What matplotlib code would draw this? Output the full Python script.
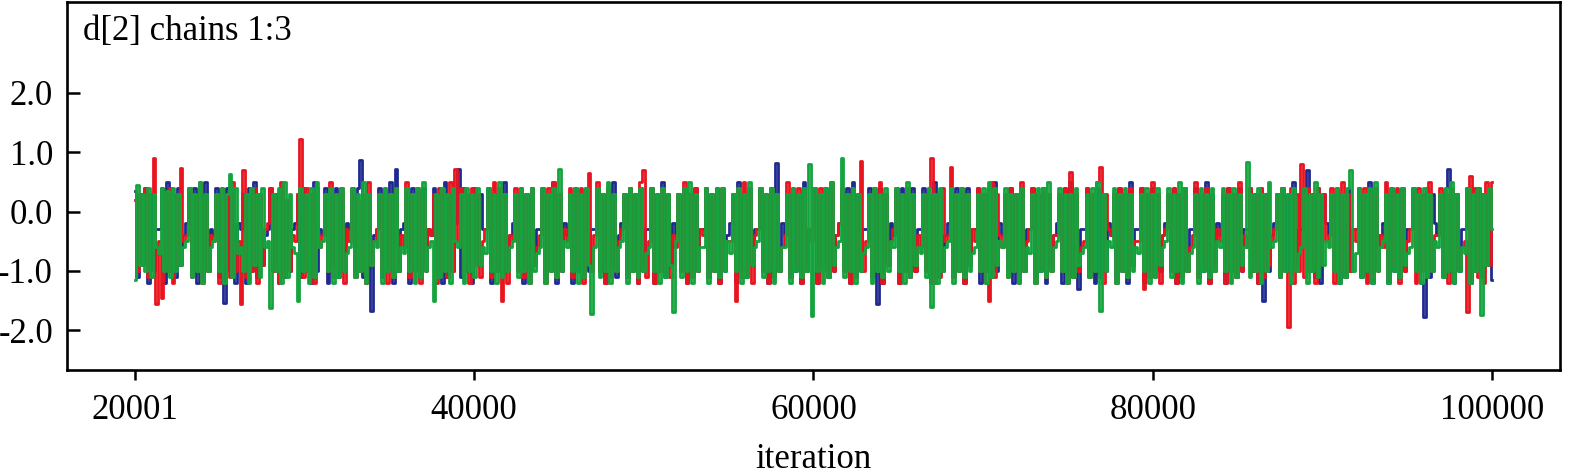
import numpy as np
import matplotlib.pyplot as plt

chain_red = [
    0.2, -1.0, 0.3, -0.9, 0.4, -1.1, 0.3, 0.9, -1.55, -0.5,
    -1.45, 0.3, -1.0, 0.4, -1.2, 0.3, -0.9, 0.74, -0.5, -0.4,
    0.4, -1.1, 0.3, -1.0, 0.5, -1.2, 0.2, -1.0, -0.4, -0.5,
    0.3, -1.2, 0.4, -0.9, 0.3, -1.1, 0.5, -1.0, -0.5, -1.55,
    0.7, -1.1, 0.3, -1.0, 0.4, -1.2, 0.3, -0.9, -0.3, -0.2,
    0.4, -1.0, 0.3, -1.2, 0.5, -1.1, 0.2, -1.0, -0.4, -0.5,
    0.3, 1.22, -1.1, 0.4, -1.0, 0.3, -1.2, 0.4, -0.6, -0.4,
    0.3, -1.0, 0.5, -1.1, 0.3, -0.9, 0.4, -1.2, -0.3, -0.5,
    0.4, -1.1, 0.2, -1.0, 0.3, -1.2, 0.5, -0.9, -0.5, -0.3,
    0.3, -1.0, 0.4, -1.2, 0.3, -1.1, 0.4, -1.0, -0.4, -0.6,
    0.5, -1.1, 0.3, -0.9, 0.4, -1.2, 0.2, -1.0, -0.3, -0.4,
    0.3, -1.2, 0.4, -1.0, 0.3, -1.1, 0.5, -1.0, 0.72, -0.5,
    0.4, -1.0, 0.3, -1.2, 0.4, -0.9, 0.3, -1.1, -0.5, -0.3,
    0.3, -1.1, 0.5, -1.0, 0.4, -1.5, 0.3, -1.2, -0.4, -0.5,
    0.4, -1.0, 0.2, -1.1, 0.3, -1.2, 0.4, -0.9, -0.6, -0.4,
    0.3, -1.2, 0.4, -1.0, 0.5, -1.1, 0.3, -1.0, -0.3, -0.5,
    0.4, -1.1, 0.3, -0.9, 0.4, -1.2, 0.3, 0.65, -1.0, -0.4,
    0.5, -1.0, 0.3, -1.2, 0.4, -1.1, 0.2, -1.0, -0.5, -0.3,
    0.3, -1.1, 0.4, -1.0, 0.3, -1.2, 0.5, 0.7, -1.1, -0.5,
    0.4, -1.2, 0.3, -1.0, 0.4, -0.9, 0.3, -1.1, -0.4, -0.6,
    0.3, -1.0, 0.5, -1.2, 0.3, -1.1, 0.4, -1.0, -0.3, -0.4,
    0.4, -1.1, 0.3, -1.0, 0.2, -1.2, 0.4, -0.9, -0.5, -0.5,
    0.3, -1.5, 0.4, -1.1, 0.5, -1.0, 0.3, -1.2, -0.4, -0.3,
    0.4, -1.0, 0.3, -1.2, 0.4, -1.1, 0.3, -1.0, -0.6, -0.4,
    0.5, -1.1, 0.3, -0.9, 0.4, -1.2, 0.2, -1.0, -0.3, -0.5,
    0.3, -1.2, 0.4, -1.0, 0.3, -1.1, 0.5, -1.0, -0.4, -0.2,
    0.4, -1.0, 0.3, -1.2, 0.4, -1.1, 0.3, 0.85, -1.0, -0.5,
    0.3, -1.1, 0.4, -1.0, 0.5, -1.2, 0.3, -0.9, -0.5, -0.3,
    0.4, -1.2, 0.3, -1.0, 0.4, -1.1, 0.2, -1.0, -0.4, -0.6,
    0.3, -1.0, 0.4, 0.9, -1.2, 0.3, -1.1, 0.4, -0.5, -0.4,
    0.75, -1.1, 0.3, -1.0, 0.4, -1.2, 0.3, -0.9, -0.3, -0.5,
    0.4, -1.0, 0.3, -1.2, -1.5, 0.5, -1.1, 0.3, -0.4, -0.6,
    0.3, -1.1, 0.4, -1.0, 0.3, -1.2, 0.5, -1.0, -0.5, -0.3,
    0.4, -1.2, 0.3, -0.9, 0.4, -1.1, 0.3, -1.0, -0.4, -0.4,
    0.3, -1.0, 0.4, -1.2, 0.67, -1.1, 0.3, -1.0, -0.6, -0.5,
    0.4, -1.1, 0.3, -1.0, 0.5, 0.75, -1.2, 0.3, -0.3, -0.4,
    0.3, -1.2, 0.4, -1.0, 0.3, -1.1, 0.4, -0.9, -0.5, -0.5,
    0.4, -1.3, 0.3, -1.1, 0.5, -1.0, 0.3, -1.2, -0.4, -0.3,
    0.3, -1.0, 0.4, -1.2, 0.3, -1.1, 0.4, -1.0, -0.6, -0.4,
    0.5, -1.1, 0.3, -0.9, 0.4, -1.2, 0.2, -1.0, -0.3, -0.5,
    0.3, -1.2, 0.4, -1.0, 0.3, -1.1, 0.5, -1.0, -0.4, -0.6,
    0.4, -1.0, 0.3, -1.2, 0.4, -1.1, 0.3, -0.9, -0.5, -0.3,
    0.3, -1.1, 0.4, -1.0, -1.95, 0.4, -1.2, 0.3, -1.0, 0.8,
    -1.1, 0.4, -1.0, 0.3, -1.2, 0.4, -0.9, 0.3, -0.5, -0.4,
    0.4, -1.2, 0.3, -1.0, 0.5, -1.1, 0.3, -1.0, -0.3, -0.5,
    0.3, -1.0, 0.4, -1.2, 0.3, -1.1, 0.4, -1.0, -0.4, -0.6,
    0.5, -1.1, 0.3, -0.9, 0.4, -1.2, 0.3, -1.0, -0.5, -0.3,
    0.3, -1.2, 0.4, -1.0, 0.3, -1.1, 0.5, -1.0, -0.4, -0.4,
    0.4, -1.0, 0.3, -1.2, 0.4, -1.1, 0.3, -0.9, -0.6, -0.5,
    -1.7, 0.6, -1.0, 0.4, -1.1, 0.3, -1.2, 0.5, -0.9, 0.5,
]
chain_blue = [
    0.35, -1.1, 0.3, -0.9, 0.4, -1.2, 0.3, -1.0, -0.3, -0.3,
    0.4, -1.2, 0.5, -1.0, 0.3, -1.1, 0.4, -0.9, -0.4, -0.2,
    0.3, -1.0, 0.4, -1.2, 0.3, -1.1, 0.5, -1.0, -0.3, -0.4,
    0.4, -1.1, 0.3, -1.54, 0.4, -1.0, 0.3, -1.2, -0.2, -0.3,
    0.3, -1.2, 0.4, -1.0, 0.5, -1.1, 0.3, -0.9, -0.4, -0.3,
    0.4, -1.0, 0.3, -1.2, 0.4, -1.1, 0.2, -1.0, -0.3, -0.2,
    0.3, -1.1, 0.4, -1.0, 0.3, -1.2, 0.5, -1.0, -0.3, -0.4,
    0.4, -1.2, 0.3, -0.9, 0.4, -1.1, 0.3, -1.0, -0.2, -0.3,
    0.3, -1.0, 0.4, 0.87, -1.1, -1.2, 0.3, -1.68, -0.4, -0.3,
    0.4, -1.1, 0.3, -1.0, 0.5, -1.2, 0.72, -1.0, -0.3, -0.2,
    0.3, -1.2, 0.4, -1.0, 0.3, -1.1, 0.4, -0.9, -0.3, -0.4,
    0.4, -1.0, 0.3, -1.2, 0.5, -1.1, 0.3, -1.0, -0.2, 0.72,
    -1.1, 0.4, -1.0, 0.3, -1.2, 0.4, -0.9, 0.3, -0.3, -0.3,
    0.4, -1.2, 0.3, -1.0, 0.4, -1.1, 0.5, -1.0, -0.4, -0.2,
    0.3, -1.0, 0.4, -1.2, 0.3, -1.1, 0.4, -0.9, -0.3, -0.3,
    0.4, -1.1, 0.3, -1.0, 0.5, -1.2, 0.3, -1.0, -0.2, -0.4,
    0.3, -1.2, 0.4, -1.0, 0.3, -1.1, 0.4, -1.0, -0.3, -0.3,
    0.4, -1.0, 0.3, -1.2, 0.4, -0.9, 0.5, -1.1, -0.4, -0.2,
    0.3, -1.1, 0.4, -1.0, 0.3, -1.2, 0.4, -1.0, -0.3, -0.3,
    0.4, -1.2, 0.3, -1.0, 0.5, -1.1, 0.3, -0.9, -0.2, -0.4,
    0.3, -1.0, 0.4, -1.2, 0.3, -1.1, 0.4, -1.0, -0.3, -0.3,
    0.4, -1.1, 0.3, -1.0, 0.4, -1.2, 0.3, -1.0, -0.4, -0.2,
    0.3, -1.2, 0.5, -1.0, 0.3, -1.1, 0.4, -0.9, -0.3, -0.3,
    0.4, -1.0, 0.3, -1.2, 0.4, -1.1, 0.81, -1.0, -0.2, -0.4,
    0.3, -1.1, 0.4, -1.0, 0.3, -1.2, 0.5, -1.0, -0.3, -0.3,
    0.4, -1.2, 0.3, -0.9, 0.4, -1.1, 0.3, -1.0, -0.4, -0.2,
    0.3, -1.0, 0.4, -1.2, 0.5, -1.1, 0.3, -1.0, -0.3, -0.3,
    0.4, -1.1, 0.3, -1.55, 0.4, -1.2, 0.3, -0.9, -0.2, -0.4,
    0.3, -1.2, 0.4, -1.0, 0.3, -1.1, 0.4, -1.0, -0.3, -0.3,
    0.4, -1.0, 0.3, -1.2, 0.5, -1.1, 0.3, -1.0, -0.4, -0.2,
    0.3, -1.1, 0.4, -1.0, 0.3, -1.2, 0.4, -0.9, -0.3, -0.3,
    0.4, -1.2, 0.3, -1.0, 0.4, -1.1, 0.5, -1.0, -0.2, -0.4,
    0.3, -1.0, 0.4, -1.2, 0.3, -1.1, 0.4, -1.0, -0.3, -0.3,
    0.4, -1.1, 0.3, -1.0, 0.4, -1.2, 0.3, -0.9, -0.4, -0.2,
    0.3, -1.2, 0.4, -1.0, 0.5, -1.1, 0.3, -1.3, -0.3, -0.3,
    0.4, -1.0, 0.3, -1.2, 0.4, -1.1, 0.3, -1.0, -0.2, -0.4,
    0.3, -1.1, 0.4, -1.0, 0.3, -1.2, 0.5, -0.9, -0.3, -0.3,
    0.4, -1.2, 0.3, -1.0, 0.4, -1.1, 0.3, -1.0, -0.4, -0.2,
    0.3, -1.0, 0.4, -1.2, 0.3, -1.1, 0.4, -1.0, -0.3, -0.3,
    0.4, -1.1, 0.3, -1.0, 0.5, -1.2, 0.3, -0.9, -0.2, -0.4,
    0.3, -1.2, 0.4, -1.0, 0.3, -1.1, 0.4, -1.0, -0.3, -0.3,
    0.4, -1.0, 0.3, -1.2, 0.4, -1.5, 0.3, -1.0, -0.4, -0.2,
    0.3, -1.1, 0.4, -1.0, 0.3, -1.2, 0.5, -0.9, -0.3, -0.3,
    0.4, 0.7, -1.0, 0.3, -1.1, 0.4, -1.2, 0.3, -0.2, -0.4,
    0.3, -1.0, 0.4, -1.2, 0.3, -1.1, 0.4, -1.0, -0.3, -0.3,
    0.4, -1.1, 0.3, -1.0, 0.5, -1.2, 0.3, -0.9, -0.4, -0.2,
    0.3, -1.2, 0.4, -1.0, 0.3, -1.1, 0.4, -1.0, -0.3, -0.3,
    0.4, -1.0, 0.3, -1.2, -1.77, 0.4, -1.1, 0.3, -0.2, -0.4,
    0.3, -1.1, 0.4, 0.72, -1.0, -1.2, 0.3, -1.0, -0.3, -0.3,
    0.4, -1.2, 0.3, -1.0, 0.4, -1.1, 0.3, -0.9, 0.4, -1.15,
]
chain_green = [
    -1.15, 0.45, -0.9, 0.3, -1.0, 0.4, -1.1, 0.3, -0.6, -0.7,
    0.4, -1.0, 0.35, -1.1, 0.4, -1.0, 0.3, -0.9, -0.6, -0.5,
    0.4, -1.1, 0.3, -1.0, 0.5, -1.2, 0.3, -1.0, -0.6, -0.5,
    0.3, -1.0, 0.4, -1.2, 0.3, 0.64, -1.1, 0.4, -0.7, -0.6,
    -1.0, 0.3, -1.2, 0.4, -0.9, 0.3, -1.1, 0.4, -0.6, -0.5,
    -1.63, 0.3, -1.0, 0.4, -1.2, 0.5, -1.1, 0.3, -0.6, -0.7,
    -1.5, 0.4, -1.0, 0.3, -1.2, 0.4, -1.1, 0.5, -0.6, -0.5,
    0.3, -1.0, 0.4, -1.2, 0.3, -1.1, 0.4, -1.0, -0.7, -0.6,
    0.4, -1.1, 0.3, -1.0, 0.5, -1.2, 0.3, -0.9, -0.5, -0.6,
    0.3, -1.2, 0.4, -1.0, 0.3, -1.1, 0.4, -1.0, -0.6, -0.7,
    0.4, -1.0, 0.3, -1.2, 0.4, -1.1, 0.5, -1.0, -0.6, -0.5,
    -1.5, 0.3, -1.1, 0.4, -1.0, 0.3, -1.2, 0.4, -0.5, -0.6,
    0.3, -1.2, 0.4, -1.0, 0.3, -1.1, 0.4, -0.9, -0.6, -0.7,
    0.4, -1.0, 0.3, -1.2, 0.5, -1.1, 0.3, -1.0, -0.6, -0.5,
    0.3, -1.1, 0.4, -1.0, 0.3, -1.2, 0.4, -1.0, -0.7, -0.6,
    0.4, -1.2, 0.3, -1.0, 0.4, -1.1, 0.72, -1.0, -0.5, -0.6,
    0.3, -1.0, 0.4, -1.2, 0.3, -1.1, 0.4, -0.9, -1.72, -0.6,
    0.4, -1.1, 0.3, -1.0, 0.5, -1.2, 0.3, -1.0, -0.6, -0.5,
    0.3, -1.2, 0.4, -1.0, 0.3, -1.1, 0.4, -1.0, -0.7, -0.6,
    0.4, -1.0, 0.3, -1.2, 0.4, -1.1, 0.3, -0.9, -1.7, -0.5,
    0.3, -1.1, 0.4, -1.0, 0.5, -1.2, 0.3, -1.0, -0.6, -0.6,
    0.4, -1.2, 0.3, -1.0, 0.4, -1.1, 0.4, -1.0, -0.5, -0.7,
    0.3, -1.0, 0.4, -1.2, 0.3, -1.1, 0.5, -0.9, -0.6, -0.5,
    0.4, -1.1, 0.3, -1.0, 0.4, -1.2, 0.3, -1.0, -0.6, -0.6,
    0.3, -1.2, 0.4, -1.0, 0.3, -1.1, 0.4, -1.0, 0.8, -1.76,
    0.4, -1.0, 0.3, -1.2, 0.4, -1.1, 0.5, -0.9, -0.6, -0.5,
    0.91, -1.1, 0.3, -1.0, 0.4, -1.2, 0.3, -1.0, -0.7, -0.6,
    0.3, -1.2, 0.4, -1.0, 0.3, -1.1, 0.4, -1.0, -0.5, -0.6,
    0.4, -1.0, 0.3, -1.2, 0.5, -1.1, 0.3, -0.9, -0.6, -0.7,
    0.3, -1.1, 0.4, -1.6, 0.3, -1.2, 0.4, -1.0, -0.6, -0.5,
    0.4, -1.2, 0.3, -1.0, 0.4, -1.1, 0.3, -1.0, -0.7, -0.6,
    0.3, -1.0, 0.4, -1.2, 0.5, -1.1, 0.4, -0.9, -0.5, -0.6,
    0.4, -1.1, 0.3, -1.0, 0.3, -1.2, 0.4, -1.0, -0.6, -0.7,
    0.3, -1.2, 0.4, -1.0, 0.4, -1.1, 0.5, -1.0, -0.6, -0.5,
    0.4, -1.0, 0.3, -1.2, 0.3, -1.1, 0.4, -0.9, -0.7, -0.6,
    0.3, -1.1, 0.4, -1.0, 0.5, -1.67, 0.3, -1.0, -0.5, -0.6,
    0.4, -1.2, 0.3, -1.0, 0.4, -1.1, 0.3, -1.0, -0.6, -0.7,
    0.3, -1.0, 0.4, -1.2, 0.3, -1.1, 0.4, -0.9, -0.6, -0.5,
    0.4, -1.1, 0.3, -1.0, 0.5, -1.2, 0.4, -1.0, -0.7, -0.6,
    0.3, -1.2, 0.4, -1.0, 0.3, -1.1, 0.4, -1.0, -0.5, -0.6,
    0.4, -1.0, 0.3, -1.2, 0.4, -1.1, 0.3, -0.9, -0.6, 0.84,
    -1.1, 0.3, -1.0, 0.4, -1.2, 0.3, -1.0, 0.5, -0.6, -0.5,
    0.3, -1.1, 0.4, -1.0, 0.3, -1.2, 0.4, -1.0, -0.7, -0.6,
    0.4, -1.2, 0.3, -1.0, 0.5, -1.1, 0.3, -0.9, -0.5, -0.6,
    0.3, -1.0, 0.4, -1.2, 0.3, -1.1, 0.4, 0.7, -1.0, -0.7,
    0.4, -1.1, 0.3, -1.0, 0.4, -1.2, 0.5, -1.0, -0.6, -0.5,
    0.3, -1.2, 0.4, -1.0, 0.3, -1.1, 0.4, -0.9, -0.7, -0.6,
    0.4, -1.0, 0.3, -1.2, 0.4, -1.1, 0.3, -1.0, -0.5, -0.6,
    0.3, -1.1, 0.4, -1.0, 0.5, -1.2, 0.3, -1.0, -0.6, -0.7,
    0.4, -1.2, 0.3, -1.0, 0.4, -1.75, 0.3, -0.9, 0.4, -0.3,
]

first_iter, last_iter = 20001, 100000
x_ticks = [20001, 40000, 60000, 80000, 100000]
y_ticks = [2.0, 1.0, 0.0, -1.0, -2.0]
y_labels = ['2.0', '1.0', '0.0', '-1.0', '-2.0']

plt.rcParams['font.family'] = ['Liberation Serif', 'DejaVu Serif']

fig = plt.figure(figsize=(15.75, 4.71), dpi=100)
ax = fig.add_axes([0.0425, 0.2144, 0.948, 0.7814])

for vals, col in [(chain_blue, '#1f2a8f'), (chain_red, '#e8141e'), (chain_green, '#14a33c')]:
    it = np.linspace(first_iter, last_iter, len(vals))
    ax.plot(it, vals, color=col, linewidth=2.0, drawstyle='steps-mid')

ax.set_xlim(16000, 104000)
ax.set_ylim(-2.67, 3.53)
ax.set_xticks(x_ticks)
ax.set_xticklabels([str(t) for t in x_ticks])
ax.set_yticks(y_ticks)
ax.set_yticklabels(y_labels)
ax.tick_params(axis='x', direction='out', length=7, width=1.8, pad=10, labelsize=25)
ax.tick_params(axis='y', direction='in', length=9, width=1.8, pad=10, labelsize=25)
for sp in ax.spines.values():
    sp.set_linewidth(1.9)

ax.text(0.0107, 0.965, 'd[2] chains 1:3', transform=ax.transAxes, va='top', ha='left', fontsize=25)
ax.set_xlabel('iteration', fontsize=25, labelpad=12)

fig.savefig('out.png', dpi=100)
